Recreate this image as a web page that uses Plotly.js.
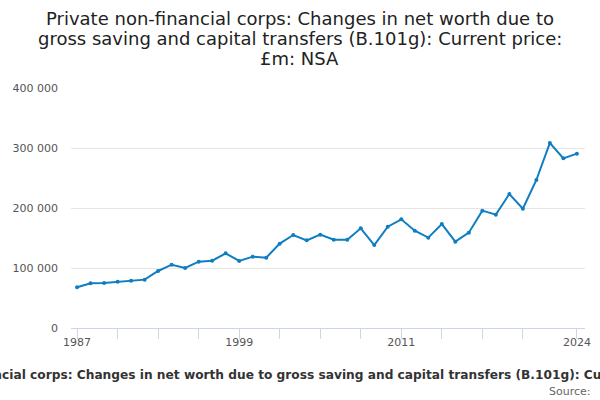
<!DOCTYPE html>
<html>
<head>
<meta charset="utf-8">
<script src="https://cdn.plot.ly/plotly-3.0.1.min.js"></script>
<style>
  html, body { margin: 0; padding: 0; background: #fff; }
  #plot { width: 600px; height: 400px; }
</style>
</head>
<body>
<div id="plot"></div>
<script>
// Years and values (£m)
var years = [1987, 1988, 1989, 1990, 1991, 1992, 1993, 1994, 1995, 1996,
             1997, 1998, 1999, 2000, 2001, 2002, 2003, 2004, 2005, 2006,
             2007, 2008, 2009, 2010, 2011, 2012, 2013, 2014, 2015, 2016,
             2017, 2018, 2019, 2020, 2021, 2022, 2023, 2024];
var values = [67800, 74400, 75000, 77200, 78900, 80600, 95000, 105500, 100000, 110600,
              112200, 124400, 111700, 118900, 117200, 140600, 155000, 146100, 155600, 147200,
              147200, 166100, 138300, 168900, 181100, 162200, 150600, 173300, 143900, 158900,
              195600, 188900, 223300, 198900, 246700, 308300, 282800, 290600];

// x ticks every 3 years plus the last year, only some labelled
var tickYears = [1987, 1990, 1993, 1996, 1999, 2002, 2005, 2008, 2011, 2014, 2017, 2020, 2024];
var tickLabels = ["1987", "", "", "", "1999", "", "", "", "2011", "", "", "", "2024"];

// title split over three lines, as in the reference
var titleLines = [
    "Private non-financial corps: Changes in net worth due to",
    "gross saving and capital transfers (B.101g): Current price:",
    "£m: NSA"
];
var seriesName = "Private non-financial corps: Changes in net worth due to gross saving and capital transfers (B.101g): Current price: £m: NSA";

var trace = {
    x: years,
    y: values,
    type: "scatter",
    mode: "lines+markers",
    line: {color: "#0f7dc2", width: 2},
    marker: {color: "#0f7dc2", size: 4},
    hoverinfo: "x+y"
};

var annotations = titleLines.map(function (line, i) {
    return {
        text: line,
        xref: "paper", yref: "paper",
        x: 0.4455, y: 1.2875 - i * 0.0833,
        xanchor: "center", yanchor: "middle",
        showarrow: false,
        font: {size: 18, color: "#222"}
    };
});

annotations.push({
    text: "<b>" + seriesName + "</b>",
    xref: "paper", yref: "paper",
    x: 0.47, y: -0.196,
    xanchor: "center", yanchor: "middle",
    showarrow: false,
    font: {size: 12.2, color: "#333"}
});
annotations.push({
    text: "Source:",
    xref: "paper", yref: "paper",
    x: 1.016, y: -0.265,
    xanchor: "right", yanchor: "middle",
    showarrow: false,
    font: {size: 11, color: "#666"}
});

var layout = {
    width: 600,
    height: 400,
    font: {family: "DejaVu Sans", color: "#555"},
    separators: ". ",
    showlegend: false,
    margin: {l: 71, r: 15, t: 88, b: 72},
    xaxis: {
        range: [1986.55, 2024.6],
        tickmode: "array",
        tickvals: tickYears,
        ticktext: tickLabels,
        ticks: "outside",
        ticklen: 10,
        tickcolor: "#ccd6eb",
        ticklabelstandoff: -6,
        showline: true,
        linecolor: "#ccd6eb",
        showgrid: false,
        zeroline: false,
        tickfont: {size: 11, color: "#555"}
    },
    yaxis: {
        range: [0, 400000],
        tickvals: [0, 100000, 200000, 300000, 400000],
        tickformat: ",d",
        showgrid: true,
        gridcolor: "#e6e6e6",
        zeroline: false,
        ticks: "",
        ticklabelstandoff: 12,
        tickfont: {size: 11, color: "#555"}
    },
    annotations: annotations
};

Plotly.newPlot("plot", [trace], layout, {displayModeBar: false, staticPlot: true});
</script>
</body>
</html>
